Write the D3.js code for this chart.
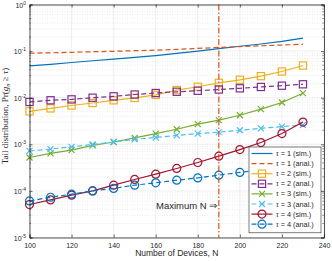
<!DOCTYPE html>
<html lang="en">
<head>
  <meta charset="utf-8">
  <title>tail distribution</title>
  <script src="https://cdn.jsdelivr.net/npm/d3@7"></script>
</head>
<style>
  body { margin: 0; background: #fff; }
  svg { display: block; }
  .tick text { font-family: "Liberation Sans", Arial, sans-serif; }
</style>
<body>
  <div id="chart"></div>
  <script type="text/javascript">
    // number of devices
    var devices = [100, 110, 120, 130, 140, 150, 160, 170, 180, 190, 200, 210, 220, 230];
    // tail probabilities
    var tau1Sim = [0.048, 0.052, 0.057, 0.062, 0.067, 0.073, 0.080, 0.089, 0.100, 0.113, 0.127, 0.142, 0.162, 0.190];
    var tau1Anal = [0.090, 0.092, 0.094, 0.097, 0.099, 0.102, 0.105, 0.109, 0.114, 0.120, 0.125, 0.130, 0.135, 0.140];
    var tau2Sim = [0.0051, 0.0059, 0.0068, 0.0077, 0.0088, 0.0099, 0.0115, 0.0146, 0.0172, 0.0208, 0.0242, 0.029, 0.0365, 0.049];
    var tau2Anal = [0.0081, 0.0088, 0.0092, 0.0100, 0.0107, 0.0117, 0.0126, 0.0134, 0.0141, 0.0150, 0.0159, 0.0170, 0.0181, 0.0194];
    var tau3Sim = [0.00052, 0.00064, 0.00075, 0.00095, 0.00112, 0.00137, 0.0017, 0.0021, 0.0027, 0.0033, 0.0042, 0.0057, 0.0079, 0.0125];
    var tau3Anal = [0.00072, 0.00079, 0.00088, 0.00099, 0.00112, 0.00128, 0.0014, 0.00155, 0.0017, 0.00182, 0.0020, 0.0022, 0.0024, 0.0026];
    var tau4Sim = [0.000051, 0.000064, 0.000081, 0.000100, 0.000133, 0.000176, 0.000229, 0.000303, 0.000407, 0.000556, 0.00077, 0.00109, 0.0017, 0.0030];
    var tau4Anal = [0.000061, 0.000073, 0.000085, 0.000100, 0.000113, 0.000133, 0.000149, 0.00017, 0.00019, 0.000218, 0.000249, 0.00028, 0.00031, 0.00034];

    var xTicks = [100, 120, 140, 160, 180, 200, 220, 240];
    var yTickExps = [0, -1, -2, -3, -4, -5];
    var maxN = 190;
    var tauLabels = ["1", "1", "2", "2", "3", "3", "4", "4"];
    var kindLabels = ["(sim.)", "(anal.)", "(sim.)", "(anal.)", "(sim.)", "(anal.)", "(sim.)", "(anal.)"];

    var series = [
      { values: tau1Sim, color: "#0072BD", dash: null, marker: null },
      { values: tau1Anal, color: "#D95319", dash: "5,3", marker: null },
      { values: tau2Sim, color: "#EDB120", dash: null, marker: "square" },
      { values: tau2Anal, color: "#7E2F8E", dash: "5,3", marker: "square" },
      { values: tau3Sim, color: "#77AC30", dash: null, marker: "x" },
      { values: tau3Anal, color: "#4DBEEE", dash: "5,3", marker: "x" },
      { values: tau4Sim, color: "#A2142F", dash: null, marker: "circle" },
      { values: tau4Anal, color: "#0072BD", dash: "5,3", marker: "circle" }
    ];

    var W = 332, H = 261;
    var margin = { top: 4.5, right: 8, bottom: 23.5, left: 29.5 };
    var width = W - margin.left - margin.right,
      height = H - margin.top - margin.bottom;

    var svg = d3.select("#chart").append("svg")
      .attr("width", W)
      .attr("height", H);
    var g = svg.append("g")
      .attr("transform", "translate(" + margin.left + "," + margin.top + ")");

    var x = d3.scaleLinear().domain([100, 240]).range([0, width]);
    var y = d3.scaleLog().domain([1e-5, 1]).range([height, 0]);

    // 网格 grid
    var minorVals = [];
    yTickExps.forEach(function (e) {
      if (e === 0) return;
      for (var k = 2; k <= 9; k++) minorVals.push(k * Math.pow(10, e));
    });
    g.selectAll(".ygridminor").data(minorVals).enter().append("line")
      .attr("x1", 0).attr("x2", width)
      .attr("y1", function (d) { return y(d); }).attr("y2", function (d) { return y(d); })
      .attr("stroke", "#dcdcdc").attr("stroke-width", 0.6).attr("stroke-dasharray", "1,1.5");
    g.selectAll(".ygrid").data(yTickExps).enter().append("line")
      .attr("x1", 0).attr("x2", width)
      .attr("y1", function (d) { return y(Math.pow(10, d)); }).attr("y2", function (d) { return y(Math.pow(10, d)); })
      .attr("stroke", "#e6e6e6").attr("stroke-width", 0.7);
    g.selectAll(".xgrid").data(xTicks).enter().append("line")
      .attr("y1", 0).attr("y2", height)
      .attr("x1", function (d) { return x(d); }).attr("x2", function (d) { return x(d); })
      .attr("stroke", "#e6e6e6").attr("stroke-width", 0.7);

    // 曲线 lines
    var line = d3.line()
      .x(function (d, i) { return x(devices[i]); })
      .y(function (d) { return y(d); });

    function drawMarker(sel, type, color) {
      if (type === "square") {
        sel.append("rect").attr("x", -3.6).attr("y", -3.6).attr("width", 7.2).attr("height", 7.2)
          .attr("fill", "none").attr("stroke", color).attr("stroke-width", 1.2);
      } else if (type === "circle") {
        sel.append("circle").attr("r", 4)
          .attr("fill", "none").attr("stroke", color).attr("stroke-width", 1.2);
      } else if (type === "x") {
        sel.append("path").attr("d", "M-3,-3L3,3M-3,3L3,-3")
          .attr("fill", "none").attr("stroke", color).attr("stroke-width", 1.2);
      }
    }

    series.forEach(function (s) {
      g.append("path")
        .datum(s.values)
        .attr("d", line)
        .attr("fill", "none")
        .attr("stroke", s.color)
        .attr("stroke-width", 1.2)
        .attr("stroke-dasharray", s.dash);
      if (s.marker) {
        g.selectAll(null).data(s.values).enter().append("g")
          .attr("transform", function (d, i) { return "translate(" + x(devices[i]) + "," + y(d) + ")"; })
          .each(function () { drawMarker(d3.select(this), s.marker, s.color); });
      }
    });

    // Maximum N
    g.append("line")
      .attr("x1", x(maxN)).attr("x2", x(maxN))
      .attr("y1", 0).attr("y2", height)
      .attr("stroke", "#D95319").attr("stroke-width", 1.2)
      .attr("stroke-dasharray", "6,2,1.5,2");
    g.append("text")
      .attr("x", x(maxN) - 1.5)
      .attr("y", y(4e-5))
      .attr("text-anchor", "end")
      .attr("font-family", "Liberation Sans, Arial, sans-serif")
      .attr("font-size", "9.5px")
      .attr("fill", "#262626")
      .text("Maximum N \u21D2");

    // 坐标轴 axes (box with inner ticks)
    var axisColor = "#262626";
    var xAxis = d3.axisBottom(x).tickValues(xTicks).tickSize(-3).tickPadding(6).tickFormat(d3.format("d"));
    var xAxisTop = d3.axisTop(x).tickValues(xTicks).tickSize(-3).tickFormat("");
    var yAxis = d3.axisLeft(y).tickValues(yTickExps.map(function (e) { return Math.pow(10, e); }))
      .tickSize(-3).tickPadding(4).tickFormat("");
    var yAxisRight = d3.axisRight(y).tickValues(yTickExps.map(function (e) { return Math.pow(10, e); }))
      .tickSize(-3).tickFormat("");

    function styleAxis(sel) {
      sel.select(".domain").attr("stroke", axisColor).attr("stroke-width", 0.8);
      sel.selectAll(".tick line").attr("stroke", axisColor).attr("stroke-width", 0.7);
      sel.selectAll(".tick text").attr("fill", axisColor).attr("font-size", "7px");
    }
    g.append("g").attr("transform", "translate(0," + height + ")").call(xAxis).call(styleAxis);
    g.append("g").call(xAxisTop).call(styleAxis);
    var yl = g.append("g").call(yAxis).call(styleAxis);
    g.append("g").attr("transform", "translate(" + width + ",0)").call(yAxisRight).call(styleAxis);

    // minor y ticks
    [0, width].forEach(function (px) {
      g.selectAll(null).data(minorVals).enter().append("line")
        .attr("x1", px).attr("x2", px === 0 ? 1.6 : width - 1.6)
        .attr("y1", function (d) { return y(d); }).attr("y2", function (d) { return y(d); })
        .attr("stroke", axisColor).attr("stroke-width", 0.5);
    });

    // 10^e labels
    yl.selectAll(".tick").each(function (d) {
      var e = Math.round(Math.log10(d));
      var t = d3.select(this).append("text")
        .attr("x", -3.5).attr("y", 2.5)
        .attr("text-anchor", "end")
        .attr("fill", axisColor)
        .attr("font-family", "Liberation Sans, Arial, sans-serif")
        .attr("font-size", "7px");
      t.append("tspan").text("10");
      t.append("tspan").attr("dy", -3).attr("font-size", "5px").text(e === 0 ? "0" : "-" + Math.abs(e));
    });

    // axis titles
    svg.append("text")
      .attr("x", margin.left + width / 2)
      .attr("y", 256)
      .attr("text-anchor", "middle")
      .attr("font-family", "Liberation Sans, Arial, sans-serif")
      .attr("font-size", "8.5px")
      .attr("fill", axisColor)
      .text("Number of Devices, N");

    var yt = svg.append("text")
      .attr("transform", "translate(8," + (margin.top + height / 2 - 5) + ") rotate(-90)")
      .attr("text-anchor", "middle")
      .attr("font-family", "Liberation Serif, Times New Roman, serif")
      .attr("font-size", "9px")
      .attr("fill", axisColor);
    yt.append("tspan").text("Tail distribution, Pr(");
    yt.append("tspan").attr("font-style", "italic").text("g");
    yt.append("tspan").attr("font-style", "italic").attr("font-size", "6.5px").attr("dy", 2).text("n");
    yt.append("tspan").attr("dy", -2).text(" \u2265 ");
    yt.append("tspan").attr("font-style", "italic").text("\u03C4");
    yt.append("tspan").text(")");

    // 图例 legend
    var lgX = 219.5, lgY = 142.5, lgW = 72, rowH = 10.1;
    var legend = g.append("g").attr("transform", "translate(" + lgX + "," + lgY + ")");
    legend.append("rect")
      .attr("width", lgW).attr("height", rowH * 8 + 5)
      .attr("fill", "#fff").attr("stroke", axisColor).attr("stroke-width", 0.6);
    series.forEach(function (s, i) {
      var row = legend.append("g").attr("transform", "translate(0," + (6.5 + i * rowH) + ")");
      row.append("line").attr("x1", 2.5).attr("x2", 23.5).attr("y1", 0).attr("y2", 0)
        .attr("stroke", s.color).attr("stroke-width", 1.2).attr("stroke-dasharray", s.dash);
      if (s.marker) {
        var m = row.append("g").attr("transform", "translate(13,0)");
        drawMarker(m, s.marker, s.color);
      }
      var t = row.append("text").attr("x", 27).attr("y", 2.5)
        .attr("font-family", "Liberation Sans, Arial, sans-serif")
        .attr("font-size", "7.3px").attr("fill", axisColor);
      t.append("tspan").attr("font-family", "Liberation Serif, serif").attr("font-style", "italic").text("\u03C4");
      t.append("tspan").text(" = " + tauLabels[i] + " " + kindLabels[i]);
    });
  </script>
</body>
</html>
